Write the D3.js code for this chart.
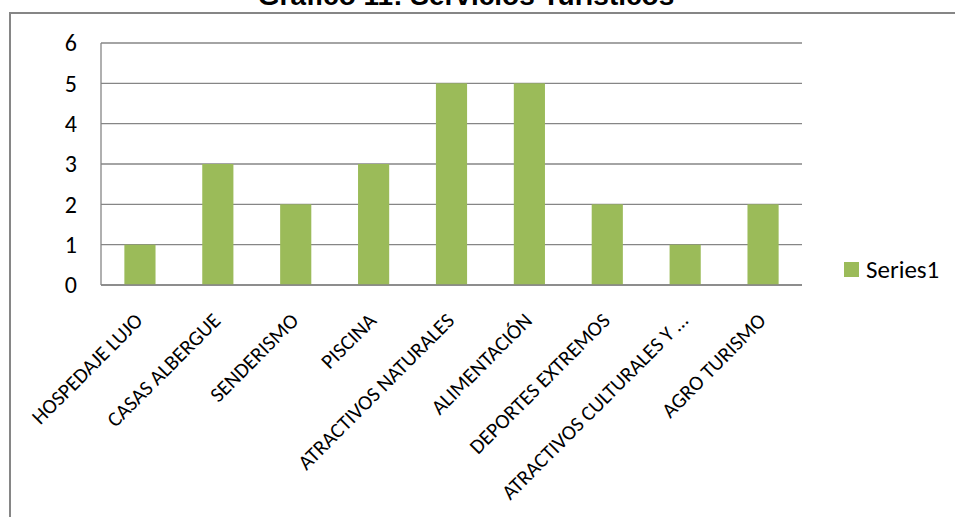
<!DOCTYPE html>
<html>
<head>
<meta charset="utf-8">
<script src="https://cdn.jsdelivr.net/npm/d3@7"></script>
<style>
  body { margin: 0; background: #fff; }
  svg { display: block; }
  .lbl { font-family: Carlito, Lato, "Open Sans", sans-serif; fill: #000; }
</style>
</head>
<body>
<svg id="chart" width="955" height="517"></svg>
<script>
// chart values
var categories = ["HOSPEDAJE LUJO", "CASAS ALBERGUE", "SENDERISMO", "PISCINA",
  "ATRACTIVOS NATURALES", "ALIMENTACIÓN", "DEPORTES EXTREMOS",
  "ATRACTIVOS CULTURALES Y …", "AGRO TURISMO"];
var values = [1, 3, 2, 3, 5, 5, 2, 1, 2];
var yTicks = [0, 1, 2, 3, 4, 5, 6];
var seriesName = "Series1";
var title = "Gráfico  11: Servicios Turísticos";

(function(){

	var svg = d3.select("#chart");
	var barColor = "#9bbb59", lineColor = "#868686";

	var x = d3.scaleBand().domain(categories).range([101, 802])
		.paddingInner(0.6).paddingOuter(0.3);
	var y = d3.scaleLinear().domain([0, 6]).range([285, 43]);

	// outer chart frame (runs off the bottom and right edges)
	svg.append("rect")
		.attr("x", 10).attr("y", 13).attr("width", 1000).attr("height", 600)
		.attr("fill", "none").attr("stroke", lineColor).attr("stroke-width", 2);

	// title, clipped at the top in the original
	svg.append("text")
		.attr("x", 466).attr("y", 5)
		.attr("text-anchor", "middle")
		.style("font-family", "Arial, 'Liberation Sans', sans-serif")
		.style("font-weight", "bold").style("font-size", "28px")
		.text(title);

	// gridlines
	svg.append("g").selectAll("line").data(yTicks).enter().append("line")
		.attr("x1", 101).attr("x2", 802)
		.attr("y1", function(d) { return y(d); })
		.attr("y2", function(d) { return y(d); })
		.attr("stroke", lineColor).attr("stroke-width", 1.3);

	// left axis line
	svg.append("line")
		.attr("x1", 101).attr("x2", 101).attr("y1", y(6)).attr("y2", y(0))
		.attr("stroke", lineColor).attr("stroke-width", 1.3);

	// y tick labels
	svg.append("g").selectAll("text").data(yTicks).enter().append("text")
		.attr("class", "lbl")
		.attr("x", 77)
		.attr("y", function(d) { return y(d); })
		.attr("dy", "0.35em")
		.attr("text-anchor", "end")
		.style("font-size", "24px")
		.text(function(d) { return d; });

	// bars
	svg.append("g").selectAll("rect").data(values).enter().append("rect")
		.attr("x", function(d, i) { return x(categories[i]); })
		.attr("y", function(d) { return y(d); })
		.attr("width", x.bandwidth())
		.attr("height", function(d) { return y(0) - y(d); })
		.attr("fill", barColor);

	// redraw baseline over the bars
	svg.append("line")
		.attr("x1", 101).attr("x2", 802).attr("y1", y(0)).attr("y2", y(0))
		.attr("stroke", lineColor).attr("stroke-width", 1.3);

	// rotated category labels
	svg.append("g").selectAll("text").data(categories).enter().append("text")
		.attr("class", "lbl")
		.attr("text-anchor", "end")
		.style("font-size", "21px")
		.attr("transform", function(d) {
			var cx = x(d) + x.bandwidth() / 2 + 4;
			return "translate(" + cx + ",322) rotate(-45)";
		})
		.text(function(d) { return d; });

	// legend
	svg.append("rect")
		.attr("x", 844).attr("y", 262).attr("width", 15).attr("height", 15)
		.attr("fill", barColor);
	svg.append("text")
		.attr("class", "lbl")
		.attr("x", 866).attr("y", 278)
		.style("font-size", "25px")
		.text(seriesName);

})();
</script>
</body>
</html>
